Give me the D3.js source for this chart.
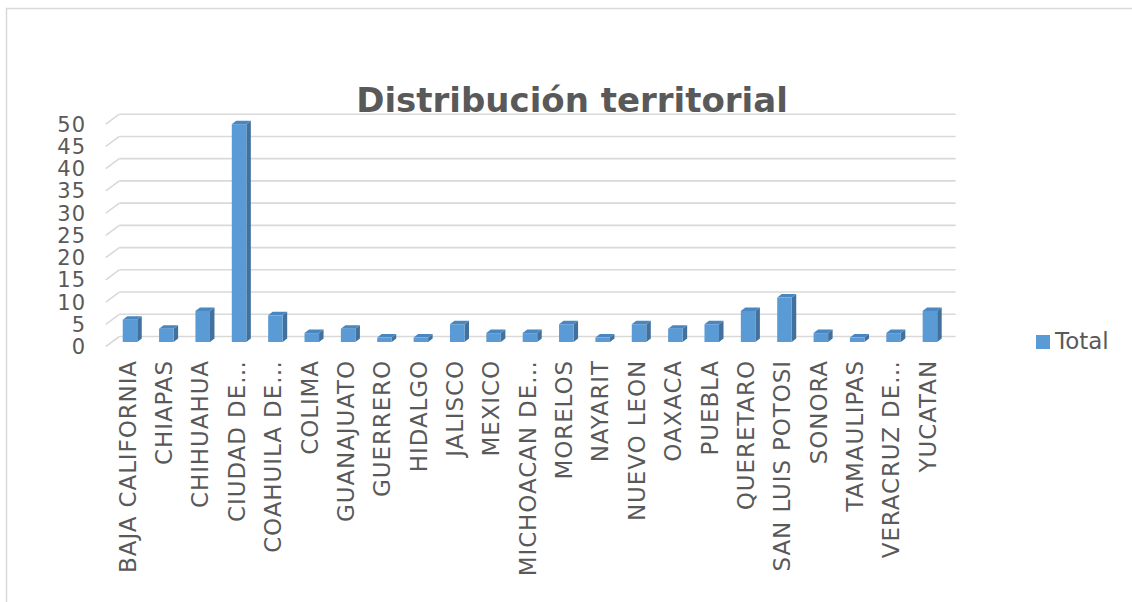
<!DOCTYPE html>
<html>
<head>
<meta charset="utf-8">
<script src="https://cdn.jsdelivr.net/npm/d3@7"></script>
<style>
  body { margin: 0; background: #fff; }
  text { font-family: "DejaVu Sans", sans-serif; fill: #595959; }
</style>
</head>
<body>
<script>
var categories = ["BAJA CALIFORNIA", "CHIAPAS", "CHIHUAHUA", "CIUDAD DE\u2026", "COAHUILA DE\u2026",
    "COLIMA", "GUANAJUATO", "GUERRERO", "HIDALGO", "JALISCO", "MEXICO", "MICHOACAN DE\u2026",
    "MORELOS", "NAYARIT", "NUEVO LEON", "OAXACA", "PUEBLA", "QUERETARO", "SAN LUIS POTOSI",
    "SONORA", "TAMAULIPAS", "VERACRUZ DE\u2026", "YUCATAN"];
var totals = [5, 3, 7, 49, 6, 2, 3, 1, 1, 4, 2, 2, 4, 1, 4, 3, 4, 7, 10, 2, 1, 2, 7];
var yTicks = [0, 5, 10, 15, 20, 25, 30, 35, 40, 45, 50];
var seriesName = "Total";
var chartTitle = "Distribuci\u00f3n territorial";

function main(){
    var width = 1132,
    height = 602;

    // offsets of the back wall and the front edge from the plane the bars sit on
    var back = {dx: 7.5, dy: -5.5},
    front = {dx: -6, dy: 4.5},
    barDepth = {dx: 4.5, dy: -3.5};

    var x = d3.scaleBand()
        .domain(categories)
        .range([111.8, 948.1]);

    var y = d3.scaleLinear()
        .domain([0, 50])
        .range([342, 119.7]);

    var barW = x.step() * 0.4;

    var svg = d3.select("body").append("svg")
        .attr("width", width)
        .attr("height", height);

    // chart border (only top and left show)
    svg.append("rect")
        .attr("x", 6.5).attr("y", 8.5)
        .attr("width", 1200).attr("height", 700)
        .attr("fill", "none")
        .attr("stroke", "#d9d9d9")
        .attr("stroke-width", 1.5);

    var grid = svg.append("g");
    var x0 = x.range()[0], x1 = x.range()[1];

    // back wall lines
    grid.selectAll("line.back")
        .data(yTicks)
        .enter().append("line")
        .attr("class", "back")
        .attr("x1", x0 + back.dx)
        .attr("x2", x1 + back.dx)
        .attr("y1", function(d) { return y(d) + back.dy; })
        .attr("y2", function(d) { return y(d) + back.dy; })
        .attr("stroke", "#d9d9d9")
        .attr("stroke-width", 1.6);

    // side wall lines
    grid.selectAll("line.side")
        .data(yTicks)
        .enter().append("line")
        .attr("class", "side")
        .attr("x1", x0 + front.dx)
        .attr("x2", x0 + back.dx)
        .attr("y1", function(d) { return y(d) + front.dy; })
        .attr("y2", function(d) { return y(d) + back.dy; })
        .attr("stroke", "#d9d9d9")
        .attr("stroke-width", 1.6);

    // y labels
    svg.append("g").selectAll("text")
        .data(yTicks)
        .enter().append("text")
        .attr("x", 86)
        .attr("y", function(d) { return y(d) + front.dy; })
        .attr("dy", "0.36em")
        .attr("text-anchor", "end")
        .style("font-size", "21px")
        .style("letter-spacing", "1px")
        .text(function(d) { return d; });

    var bars = svg.append("g").selectAll("g")
        .data(categories)
        .enter().append("g");

    function bx(i) { return x(categories[i]) + (x.step() - barW) / 2; }

    // side face
    bars.append("path")
        .attr("d", function(d, i) {
            var l = bx(i) + barW, t = y(totals[i]), b = y(0);
            return "M" + l + "," + t + "L" + (l + barDepth.dx) + "," + (t + barDepth.dy) +
                "L" + (l + barDepth.dx) + "," + (b + barDepth.dy) + "L" + l + "," + b + "Z";
        })
        .attr("fill", "#41719c");

    // top face
    bars.append("path")
        .attr("d", function(d, i) {
            var l = bx(i), t = y(totals[i]);
            return "M" + l + "," + t + "L" + (l + barDepth.dx) + "," + (t + barDepth.dy) +
                "L" + (l + barW + barDepth.dx) + "," + (t + barDepth.dy) + "L" + (l + barW) + "," + t + "Z";
        })
        .attr("fill", "#4a86bf");

    // front face
    bars.append("rect")
        .attr("x", function(d, i) { return bx(i); })
        .attr("y", function(d, i) { return y(totals[i]); })
        .attr("width", barW)
        .attr("height", function(d, i) { return y(0) - y(totals[i]); })
        .attr("fill", "#5b9bd5");

    // category labels
    svg.append("g").selectAll("text")
        .data(categories)
        .enter().append("text")
        .attr("transform", function(d) {
            return "translate(" + (x(d) + x.step() / 2 - 2.5) + ",360) rotate(-90)";
        })
        .attr("dy", "0.36em")
        .attr("text-anchor", "end")
        .style("font-size", "23px")
        .style("letter-spacing", "0.9px")
        .text(function(d) { return d; });

    // title
    svg.append("text")
        .attr("x", 572)
        .attr("y", 112)
        .attr("text-anchor", "middle")
        .style("font-size", "34px")
        .style("font-weight", "bold")
        .text(chartTitle);

    // legend
    var legend = svg.append("g");
    legend.append("rect")
        .attr("x", 1036).attr("y", 335)
        .attr("width", 14).attr("height", 14)
        .attr("fill", "#5b9bd5");
    legend.append("text")
        .attr("x", 1055)
        .attr("y", 349)
        .style("font-size", "23px")
        .text(seriesName);
}

main();
</script>
</body>
</html>
